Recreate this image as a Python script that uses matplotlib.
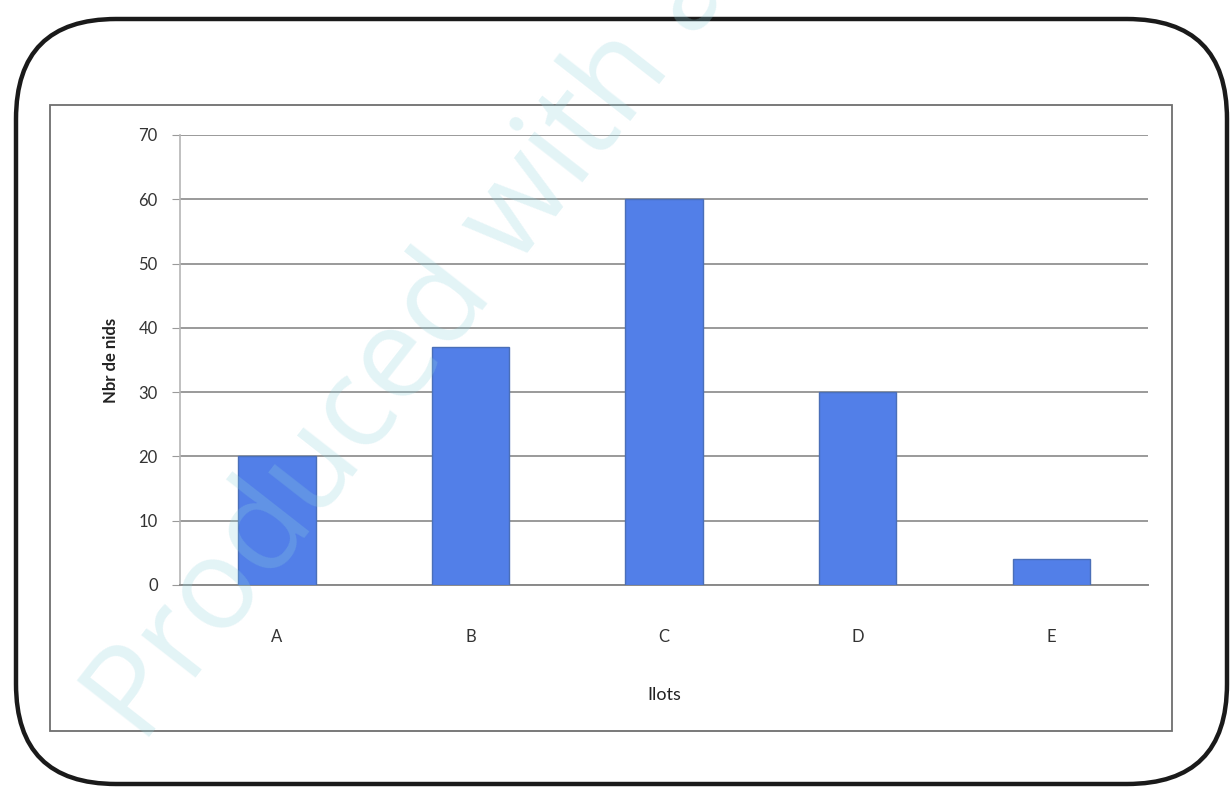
import matplotlib.pyplot as plt
import numpy as np
from matplotlib.patches import FancyBboxPatch, Rectangle

# Nombre de nids par îlot
ilots = ['A', 'B', 'C', 'D', 'E']
nids = [20, 37, 60, 30, 4]
y_ticks = [0, 10, 20, 30, 40, 50, 60, 70]

plt.rcParams['font.family'] = ['Lato', 'DejaVu Sans']

fig = plt.figure(figsize=(12.31, 7.89), dpi=100)
fig.patch.set_facecolor('white')

# cadre arrondi extérieur et cadre du graphique
outer = FancyBboxPatch((0.16, 0.05), 12.11, 7.65,
                       boxstyle="round,pad=0,rounding_size=1.0",
                       transform=fig.dpi_scale_trans, fill=False,
                       edgecolor='#1a1a1a', linewidth=3.2)
fig.patches.append(outer)
inner = Rectangle((0.50, 0.58), 11.22, 6.26, transform=fig.dpi_scale_trans,
                  fill=False, edgecolor='#6e6e6e', linewidth=1.3)
fig.patches.append(inner)

ax = fig.add_axes([0.1462, 0.2586, 0.7864, 0.5703])
index = np.arange(len(ilots))
ax.bar(index, nids, 0.40, color='#527fe8', edgecolor='#4a6fb8',
       linewidth=1.0, zorder=3)

ax.set_xlim(-0.5, len(ilots) - 0.5)
ax.set_ylim(0, 70)
ax.set_yticks(y_ticks)
ax.set_xticks(index)
ax.set_xticklabels(ilots)
ax.tick_params(axis='y', length=6, color='#9a9a9a', labelsize=12,
               labelcolor='#333333', pad=10)
ax.tick_params(axis='x', length=0, labelsize=12, labelcolor='#333333', pad=32)
ax.grid(axis='y', color='#9a9a9a', linewidth=1.4, zorder=0)

for side in ['top', 'right']:
    ax.spines[side].set_visible(False)
ax.spines['left'].set_color('#b5b5b5')
ax.spines['left'].set_linewidth(1.2)
ax.spines['bottom'].set_color('#8a8a8a')
ax.spines['bottom'].set_linewidth(1.4)

ax.set_ylabel('Nbr de nids', fontsize=12, fontweight='bold', labelpad=14,
              color='#222222')
ax.set_xlabel('Ilots', fontsize=13, labelpad=30, color='#222222')

# filigrane
fig.text(0.135, 0.03, 'Produced with a Trial Version of PDF Annotator',
         fontsize=92, color='#8fd3dd', alpha=0.25, rotation=52,
         ha='left', va='bottom', rotation_mode='anchor', zorder=10,
         family=['Open Sans', 'DejaVu Sans'])

fig.savefig('out.png', dpi=100, facecolor='white')
